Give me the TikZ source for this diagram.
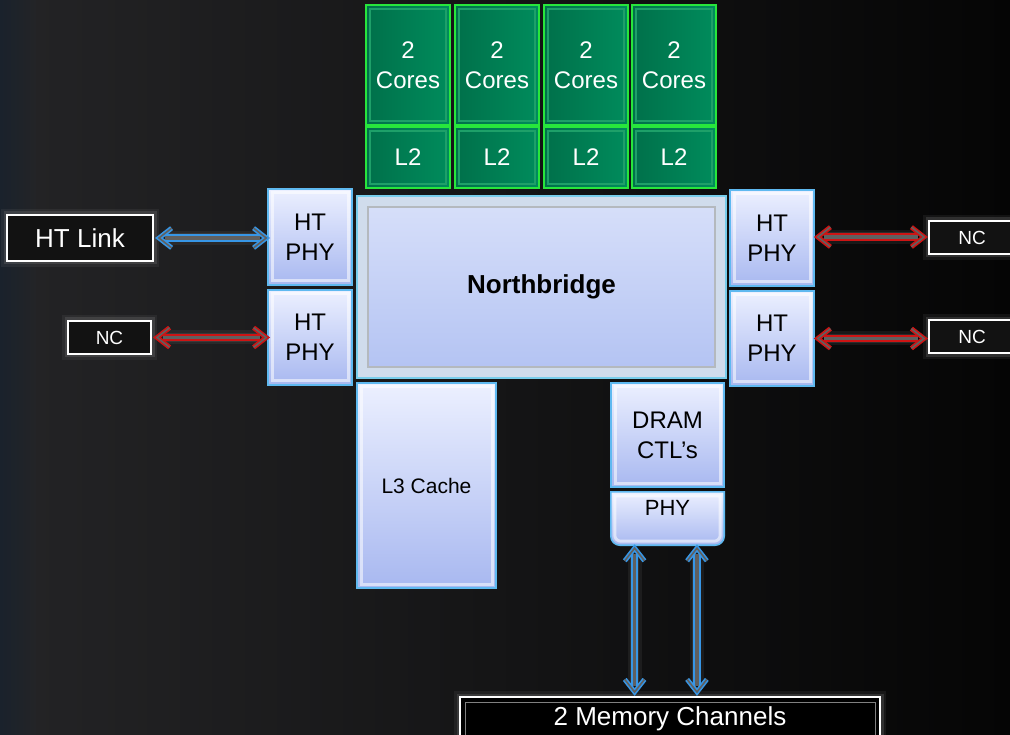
\documentclass[tikz,border=0pt]{standalone}
\usepackage{fontspec}
\setmainfont{Liberation Sans}
\usetikzlibrary{arrows.meta,calc}
\definecolor{bgL}{RGB}{36,36,38}
\definecolor{bgR}{RGB}{5,5,5}
\definecolor{strip}{RGB}{26,34,44}
\definecolor{grFill}{RGB}{0,140,92}
\definecolor{grDark}{RGB}{0,112,74}
\definecolor{grEdge}{RGB}{40,230,60}
\definecolor{grBevel}{RGB}{30,160,105}
\definecolor{blTop}{RGB}{236,240,255}
\definecolor{blBot}{RGB}{168,184,240}
\definecolor{blEdge}{RGB}{95,185,240}
\definecolor{nbOuter}{RGB}{208,220,236}
\definecolor{nbEdge}{RGB}{120,205,235}
\definecolor{arBlue}{RGB}{55,150,230}
\definecolor{arRed}{RGB}{205,20,20}
\definecolor{lblFill}{RGB}{18,18,18}
\tikzset{
  txtA/.style={font=\fontsize{24}{30}\selectfont, align=center},
  greenbox/.style={draw=grEdge, line width=2pt, left color=grDark, right color=grFill,
    text=white, txtA, inner sep=0pt,
    path picture={\draw[grBevel, line width=2pt]
      ([shift={(4pt,-4pt)}]path picture bounding box.north west) rectangle
      ([shift={(-4pt,4pt)}]path picture bounding box.south east);}},
  bluebox/.style={draw=blEdge, line width=1.6pt, top color=blTop, bottom color=blBot,
    text=black, txtA, inner sep=0pt,
    path picture={\draw[white, opacity=0.55, line width=3pt]
      ([shift={(4pt,-4pt)}]path picture bounding box.north west) rectangle
      ([shift={(-4pt,4pt)}]path picture bounding box.south east);}},
  nbbox/.style={draw=nbEdge, line width=2pt, fill=nbOuter, text=black,
    font=\fontsize{26}{29}\selectfont\bfseries, inner sep=0pt,
    path picture={\shade[top color={rgb,255:red,216;green,224;blue,250}, bottom color={rgb,255:red,178;green,194;blue,242},
      draw={rgb,255:red,180;green,185;blue,190}, line width=1.5pt]
      ([shift={(11pt,-11pt)}]path picture bounding box.north west) rectangle
      ([shift={(-11pt,11pt)}]path picture bounding box.south east);}},
  lblbox/.style={draw=white, line width=2pt, fill=lblFill, text=white, inner sep=0pt,
    preaction={draw=gray, line width=12pt, opacity=0.12},
    preaction={draw=gray, line width=7pt, opacity=0.25}},
  memframe/.style={lblbox, fill=black,
    path picture={\draw[gray, line width=1pt]
      ([shift={(5pt,-5pt)}]path picture bounding box.north west) rectangle
      ([shift={(-5pt,5pt)}]path picture bounding box.south east);}},
  shaftstyle/.style={double=gray!75!black, double distance=3.5pt, line width=1.8pt,
    preaction={draw=gray, line width=14pt, opacity=0.12},
    preaction={draw=gray, line width=9pt, opacity=0.2}},
  headstyle/.style={double=gray!75!black, double distance=1.6pt, line width=1.6pt, line join=miter},
}
\newcommand{\myDblArrow}[3]{%
  \draw[shaftstyle, #1] ($(#2)!6pt!(#3)$) -- ($(#3)!6pt!(#2)$);
  \draw[headstyle, #1] ($(#3)!16pt!38:(#2)$) -- (#3) -- ($(#3)!16pt!-38:(#2)$);
  \draw[headstyle, #1] ($(#2)!16pt!38:(#3)$) -- (#2) -- ($(#2)!16pt!-38:(#3)$);
}
\begin{document}
\begin{tikzpicture}[x=1pt,y=-1pt]
\useasboundingbox (0,0) rectangle (1010,735);
\shade[left color=bgL, right color=bgR] (0,0) rectangle (1010,735);
\shade[left color=strip, right color=bgL!90!strip] (0,0) rectangle (36,735);

% cores and L2
\foreach \i/\cx in {1/408,2/497,3/586,4/674}{
  \node[greenbox, minimum width=84pt, minimum height=120pt] (core\i) at (\cx,65) {2\\Cores};
  \node[greenbox, minimum width=84pt, minimum height=61pt] (ltwo\i) at (\cx,157.5) {L2};
}

% HT PHYs
\node[bluebox, minimum width=84pt, minimum height=96pt] (phyL1) at (310,237) {HT\\PHY};
\node[bluebox, minimum width=84pt, minimum height=95pt] (phyL2) at (310,337.5) {HT\\PHY};
\node[bluebox, minimum width=84pt, minimum height=96pt] (phyR1) at (772,238) {HT\\PHY};
\node[bluebox, minimum width=84pt, minimum height=95pt] (phyR2) at (772,338.5) {HT\\PHY};

% Northbridge
\node[nbbox, minimum width=369pt, minimum height=182pt] (nb) at (541.5,287) {Northbridge};

% L3, DRAM, PHY
\node[bluebox, font=\fontsize{21}{24}\selectfont, minimum width=139pt, minimum height=205pt] (lthree) at (426.5,485.5) {L3 Cache};
\node[bluebox, minimum width=113pt, minimum height=104pt] (dram) at (667.5,435) {DRAM\\CTL’s};
\node[minimum width=113pt, minimum height=53pt, inner sep=0pt] (phy) at (667.5,518.5) {};
\shade[draw=blEdge, line width=1.6pt, top color=blTop, bottom color=blBot]
  (phy.north west) -- (phy.north east) [rounded corners=9pt] -- (phy.south east) -- (phy.south west) [sharp corners] -- cycle;
\draw[white, opacity=0.55, line width=3pt]
  ([shift={(4pt,-4pt)}]phy.north west) -- ([shift={(-4pt,-4pt)}]phy.north east) [rounded corners=6pt]
  -- ([shift={(-4pt,4pt)}]phy.south east) -- ([shift={(4pt,4pt)}]phy.south west) [sharp corners] -- cycle;
\node[txtA, anchor=north] (phytxt) at ([yshift=-5pt]phy.north) {\fontsize{22}{24}\selectfont PHY};

% labels
\node[lblbox, font=\fontsize{26}{29}\selectfont, minimum width=146pt, minimum height=46pt] (htlink) at (80,238) {HT Link};
\node[lblbox, font=\fontsize{19}{22}\selectfont, minimum width=83pt, minimum height=33pt] (ncL) at (109.5,337.5) {NC};
\node[lblbox, font=\fontsize{19}{22}\selectfont, minimum width=86pt, minimum height=33pt] (ncR1) at (972,237.5) {NC};
\node[lblbox, font=\fontsize{19}{22}\selectfont, minimum width=86pt, minimum height=33pt] (ncR2) at (972,337) {NC};
\node[memframe, font=\fontsize{26}{29}\selectfont, minimum width=420pt, minimum height=44pt] (mem) at (670,719) {2 Memory Channels};

% arrow end points
\coordinate (a1s) at ([xshift=5pt]htlink.east);
\coordinate (a1e) at ([xshift=-1pt]htlink.east -| phyL1.west);
\coordinate (a2s) at ([xshift=5pt]ncL.east);
\coordinate (a2e) at ([xshift=-1pt]ncL.east -| phyL2.west);
\coordinate (a3s) at ([yshift=1pt,xshift=3pt]phyR1.east);
\coordinate (a3e) at ([yshift=1pt,xshift=-4pt]phyR1.east -| ncR1.west);
\coordinate (a4s) at ([xshift=3pt]phyR2.east);
\coordinate (a4e) at ([xshift=-4pt]phyR2.east -| ncR2.west);
\coordinate (m1) at ($(phy.south west)!0.21!(phy.south east)$);
\coordinate (m2) at ($(phy.south west)!0.76!(phy.south east)$);
\coordinate (a5s) at ([yshift=-3pt]m1);
\coordinate (a5e) at ([yshift=4pt]m1 |- mem.north);
\coordinate (a6s) at ([yshift=-3pt]m2);
\coordinate (a6e) at ([yshift=4pt]m2 |- mem.north);

\myDblArrow{arBlue}{a1s}{a1e}
\myDblArrow{arRed}{a2s}{a2e}
\myDblArrow{arRed}{a3s}{a3e}
\myDblArrow{arRed}{a4s}{a4e}
\myDblArrow{arBlue}{a5s}{a5e}
\myDblArrow{arBlue}{a6s}{a6e}
\end{tikzpicture}
\end{document}
